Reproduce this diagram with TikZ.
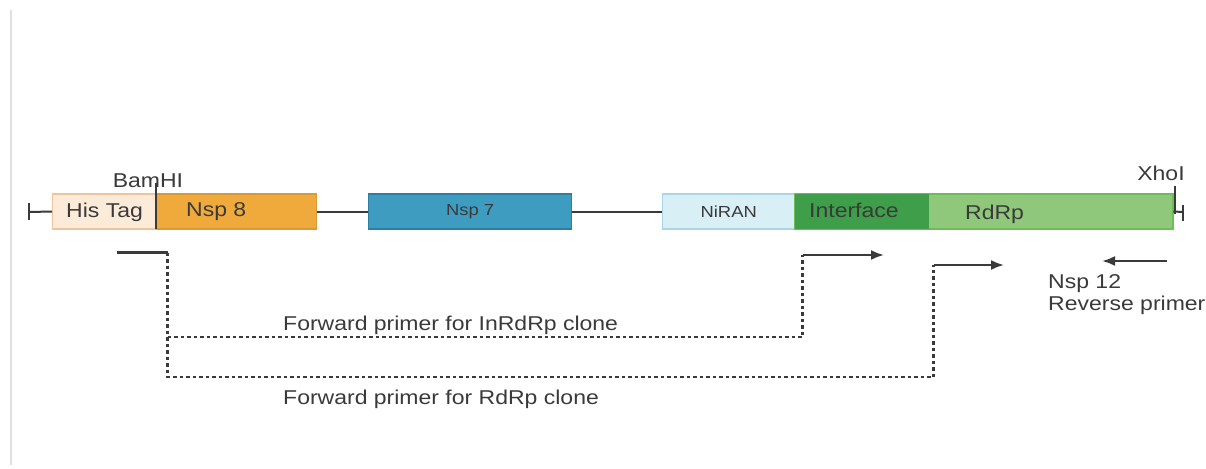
\documentclass[tikz,border=0pt]{standalone}
\usepackage{fontspec}
\setmainfont{Liberation Sans}[FakeStretch=1.15]
\usetikzlibrary{arrows.meta}
\definecolor{ink}{HTML}{3A3A3A}
\definecolor{hisfill}{HTML}{FDEBDA}
\definecolor{hisdraw}{HTML}{EFC39C}
\definecolor{nspeight}{HTML}{F0AA3C}
\definecolor{nspeightd}{HTML}{D99A35}
\definecolor{nspseven}{HTML}{3F9CC1}
\definecolor{nspsevend}{HTML}{2C7FA3}
\definecolor{niranfill}{HTML}{D8EFF6}
\definecolor{nirandraw}{HTML}{A8D6E6}
\definecolor{interf}{HTML}{3F9E49}
\definecolor{rdrpfill}{HTML}{8FC77B}
\definecolor{greendraw}{HTML}{6DBC58}
\tikzset{
  seg/.style={draw, line width=1.4pt, minimum height=35pt, inner sep=0pt, anchor=west, text=ink},
  backbone/.style={draw=ink, line width=2pt},
  tick/.style={draw=ink, line width=2.2pt},
  primer/.style={draw=ink, line width=2.2pt, -{Latex[length=13pt,width=10pt]}},
  primerflat/.style={draw=ink, line width=2.2pt},
  span/.style={draw=ink, line width=2.4pt, dash pattern=on 3.5pt off 3pt},
  lbl/.style={text=ink, inner sep=0pt, font=\fontsize{20}{23}\selectfont},
  small/.style={text=ink, inner sep=0pt, font=\fontsize{16}{19}\selectfont},
}
\begin{document}
\begin{tikzpicture}[x=1pt,y=-1pt]
\useasboundingbox[fill=white] (0,0) rectangle (1206,468);
\draw[draw=black!12, line width=1.4pt] (11,10) -- (11,465);

% gene segments
\node[seg, draw=hisdraw, fill=hisfill, minimum width=104pt] (his) at (52,211.5) {};
\node[lbl, anchor=west] at (66,212) {His Tag};
\node[seg, draw=nspeightd, fill=nspeight, minimum width=160pt] (n8) at (156,211.5) {};
\node[lbl, anchor=west] at (186,212) {Nsp 8};
\node[seg, draw=nspsevend, fill=nspseven, minimum width=203pt] (n7) at (368,211.5) {};
\node[small] at (n7.center) {Nsp 7};
\node[seg, draw=nirandraw, fill=niranfill, minimum width=132pt] (niran) at (662,211.5) {};
\node[small] at (niran.center) {NiRAN};
\node[seg, draw=greendraw, fill=rdrpfill, minimum width=378pt] (rdrp) at (794,211.5) {};
\node[seg, draw=none, fill=interf, minimum width=134pt, minimum height=35pt] (intf) at (794,211.5) {};
\draw[greendraw, line width=1.4pt] (intf.north east) -- (rdrp.north east) -- (rdrp.south east) -- (intf.south east);
\node[lbl, anchor=west] at (809,210) {Interface};
\node[lbl, anchor=west] at (965,214) {RdRp};

% backbone and ends
\coordinate (lend) at (29,212);
\draw[backbone] (lend) -- (his.west);
\draw[tick] (29,203) -- (29,220);
\draw[backbone] (n8.east) -- (n7.west);
\draw[backbone] (n7.east) -- (niran.west);
\coordinate (rend) at (1183,212);
\draw[backbone] (rdrp.east) -- (rend);
\draw[tick] (1183,205) -- (1183,221);

% restriction sites
\draw[tick] (156,183) -- (156,229);
\node[lbl, anchor=base] (bam) at (148,187) {BamHI};
\draw[tick] (1175,186) -- (1175,214);
\node[lbl, anchor=base] (xho) at (1161,180) {XhoI};

% primers
\coordinate (fstart) at (117,252.5);
\coordinate (fdrop) at (167.5,252.5);
\coordinate (inA) at (802.5,255);
\coordinate (inB) at (884,255);
\coordinate (rdA) at (933.5,265);
\coordinate (rdB) at (1004,265);
\coordinate (revA) at (1167,261);
\coordinate (revB) at (1102,261);
\draw[primerflat] (fstart) -- (fdrop);
\draw[span] (fdrop) |- (inA |- 0,337) -- (inA);
\draw[span] (fdrop) |- (rdA |- 0,377) -- (rdA);
\draw[primer] (inA) -- (inB);
\draw[primer] (rdA) -- (rdB);
\draw[primer] (revA) -- (revB);

\node[lbl, anchor=base west] at (283,330) {Forward primer for InRdRp clone};
\node[lbl, anchor=base west] at (283,404) {Forward primer for RdRp clone};
\node[lbl, anchor=base west] at (1048,288) {Nsp 12};
\node[lbl, anchor=base west] at (1048,310) {Reverse primer};
\end{tikzpicture}
\end{document}
